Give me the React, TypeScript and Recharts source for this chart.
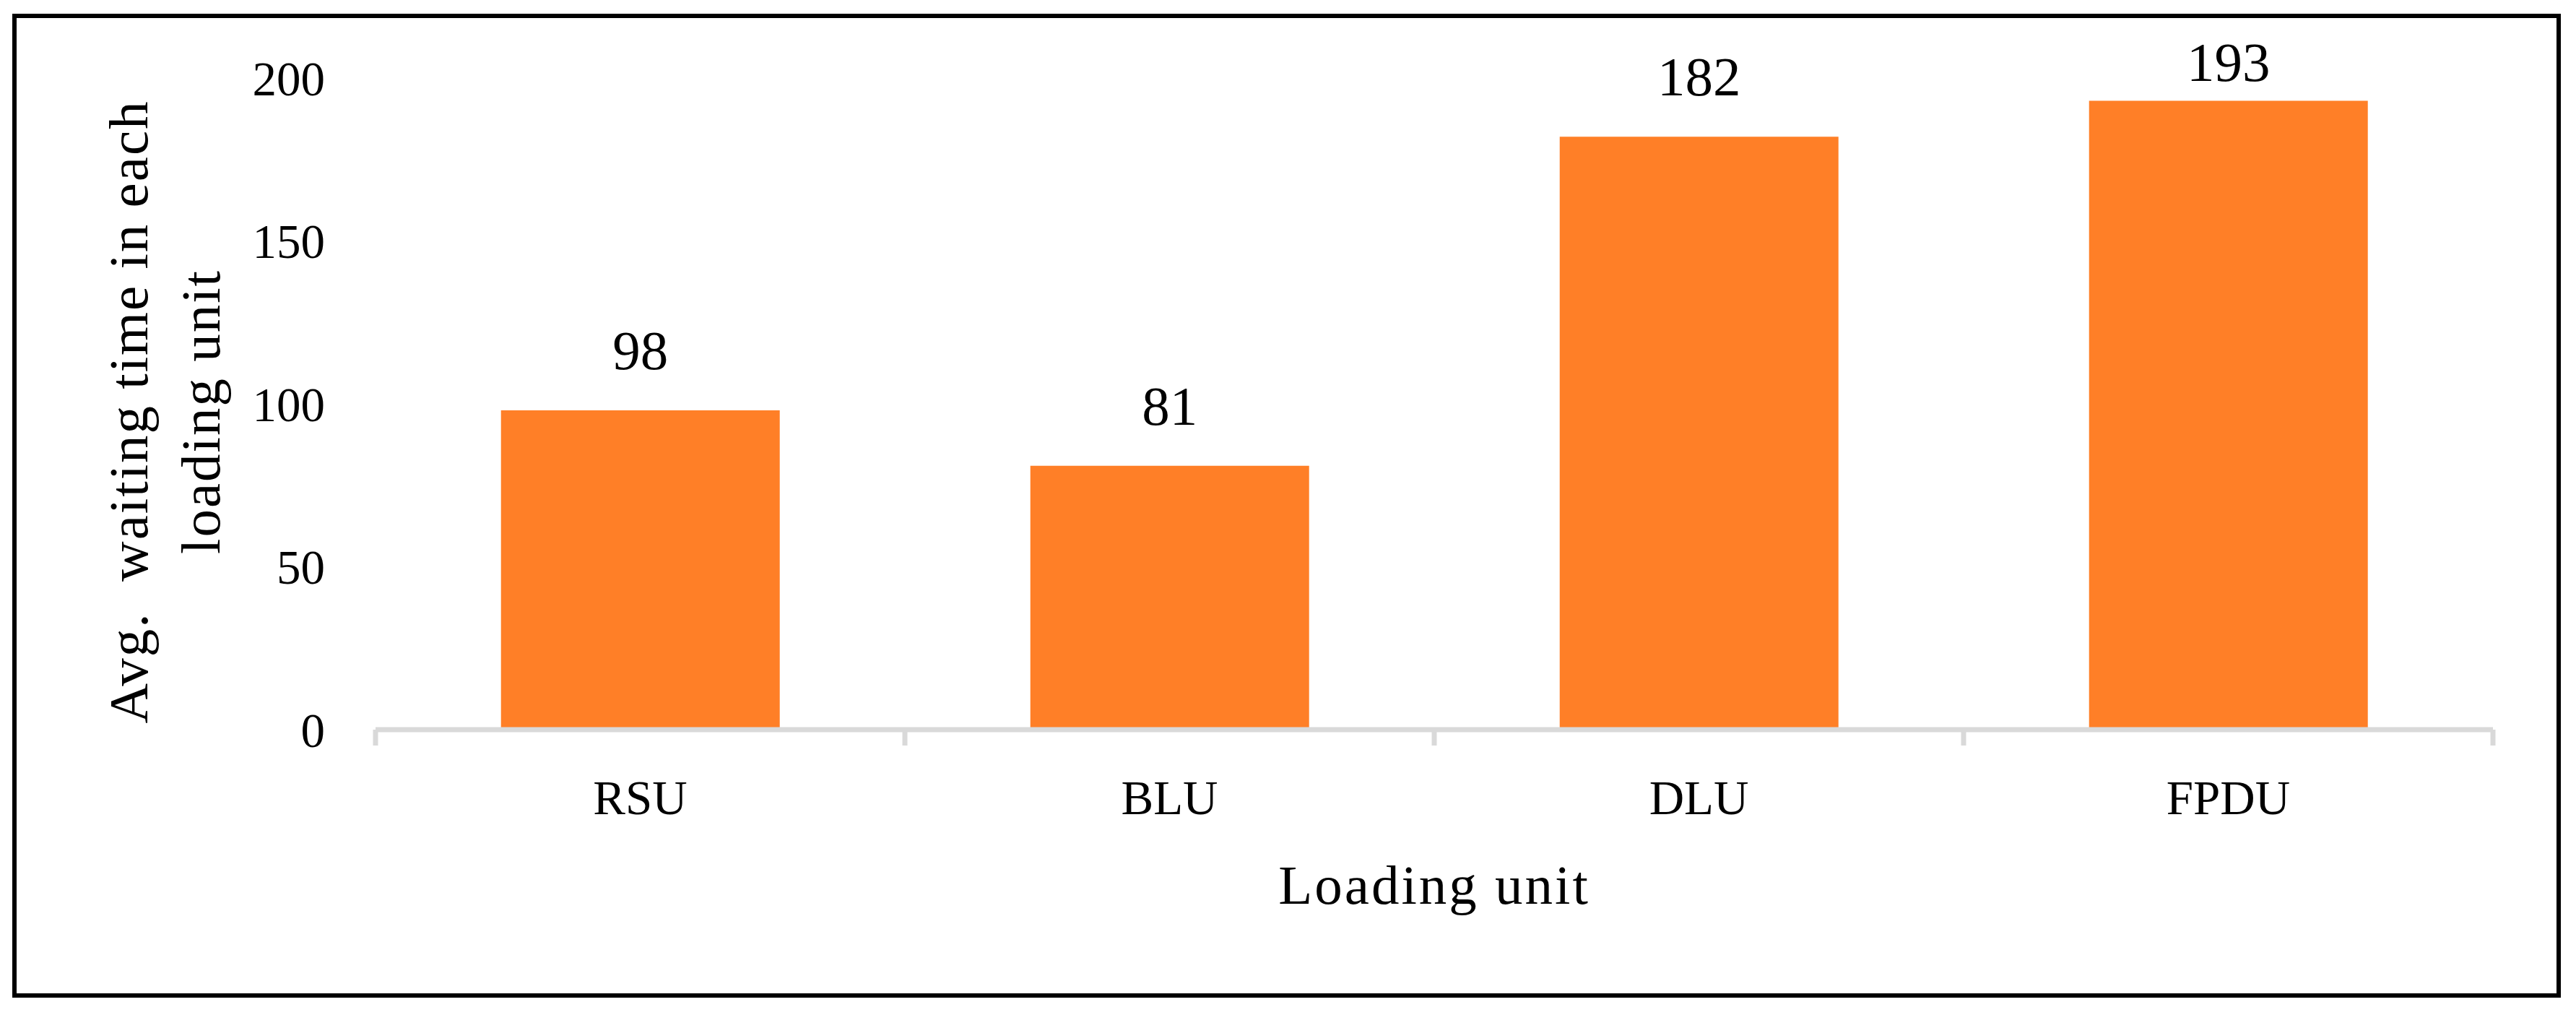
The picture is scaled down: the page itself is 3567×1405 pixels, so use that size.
import React from 'react';
import { BarChart, Bar, XAxis, YAxis, LabelList } from 'recharts';

const categories = ['RSU', 'BLU', 'DLU', 'FPDU'];
const waitingTimes = [98, 81, 182, 193];
const yTicks = [0, 50, 100, 150, 200];

const data = categories.map((name, i) => ({ name, value: waitingTimes[i] }));

const FONT = "'Liberation Serif', 'Times New Roman', serif";
const ORANGE = '#FF7F27';
const AXIS_GREY = '#D9D9D9';

const CHART_W = 3567;
const CHART_H = 1405;
const Y_AXIS_W = 520;
const MARGIN = { top: 108, right: 115, left: 0, bottom: 135 };
const PLOT_W = CHART_W - Y_AXIS_W - MARGIN.left - MARGIN.right;
const X_TICK_MARGIN = 69;

// category label plus the small grey tick marks that sit between categories (Excel style)
function CategoryTick(props: any) {
  const { x, y, payload, index } = props;
  const axisY = y - X_TICK_MARGIN;
  const band = PLOT_W / categories.length;
  const edges = [x - band / 2];
  if (index === categories.length - 1) edges.push(x + band / 2);
  return (
    <g>
      {edges.map((ex) => (
        <line key={ex} x1={ex} x2={ex} y1={axisY} y2={axisY + 22} stroke={AXIS_GREY} strokeWidth={7} />
      ))}
      <text x={x} y={y} dy="0.71em" textAnchor="middle" fontSize={67} fill="#000" fontFamily={FONT}>
        {payload.value}
      </text>
    </g>
  );
}

function ValueLabel(props: any) {
  const { x, y, width, value } = props;
  // Excel keeps the label inside the chart area, so the tallest one gets pushed down
  const baseline = Math.max(Number(y) - 57, 112);
  return (
    <text x={Number(x) + Number(width) / 2} y={baseline} textAnchor="middle" fontSize={77} fill="#000">
      {value}
    </text>
  );
}

function YTitle(props: any) {
  const { viewBox } = props;
  const x = viewBox.x + 204;
  const cy = viewBox.y + viewBox.height / 2 + 11;
  return (
    <text
      transform={`rotate(-90 ${x} ${cy})`}
      x={x}
      y={cy}
      textAnchor="middle"
      fontSize={77}
      letterSpacing={2}
      fill="#000"
      style={{ whiteSpace: 'pre' }}
    >
      <tspan x={x} dy={0}>Avg.  waiting time in each</tspan>
      <tspan x={x} dy={100}>loading unit</tspan>
    </text>
  );
}

export default function App() {
  return (
    <div style={{ position: 'relative', width: CHART_W, height: CHART_H, background: '#fff', fontFamily: FONT }}>
      <style>{'body{margin:0}'}</style>
      <div
        style={{
          position: 'absolute',
          left: 17,
          top: 19,
          width: 3529,
          height: 1362,
          border: '6px solid #000',
          boxSizing: 'border-box',
        }}
      />
      <div style={{ position: 'absolute', left: 0, top: 0 }}>
        <BarChart
          width={CHART_W}
          height={CHART_H}
          data={data}
          margin={MARGIN}
          barCategoryGap="23.7%"
        >
          <XAxis
            dataKey="name"
            interval={0}
            axisLine={{ stroke: AXIS_GREY, strokeWidth: 7 }}
            tickLine={false}
            tickSize={0}
            tickMargin={X_TICK_MARGIN}
            height={260}
            tick={<CategoryTick />}
            label={{ value: 'Loading unit', position: 'insideBottom', offset: 19, fontSize: 77, fill: '#000', letterSpacing: 3 }}
          />
          <YAxis
            domain={[0, 200]}
            ticks={yTicks}
            width={Y_AXIS_W}
            axisLine={false}
            tickLine={false}
            tickSize={0}
            tickMargin={70}
            tick={{ fontSize: 67, fill: '#000', fontFamily: FONT }}
            label={<YTitle />}
          />
          <Bar dataKey="value" fill={ORANGE} isAnimationActive={false}>
            <LabelList dataKey="value" content={<ValueLabel />} />
          </Bar>
        </BarChart>
      </div>
    </div>
  );
}
